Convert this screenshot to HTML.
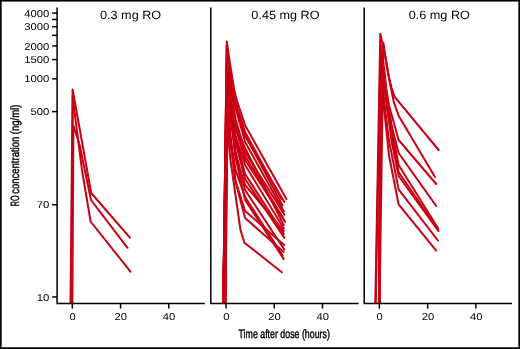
<!DOCTYPE html><html><head><meta charset="utf-8"><style>html,body{margin:0;padding:0;background:#fff;width:520px;height:349px;overflow:hidden}svg{display:block;will-change:transform}text{font-family:"Liberation Sans",sans-serif;fill:#000;text-rendering:geometricPrecision}</style></head><body>
<svg width="520" height="349" viewBox="0 0 520 349">
<rect x="0" y="0" width="520" height="349" fill="#fff"/>
<rect x="0" y="0" width="520" height="1" fill="#000"/><rect x="0" y="1" width="520" height="1" fill="#6a6a6a"/>
<rect x="0" y="0" width="1" height="349" fill="#000"/><rect x="1" y="1" width="1" height="347" fill="#555"/>
<rect x="519" y="0" width="1" height="349" fill="#000"/><rect x="518" y="1" width="1" height="347" fill="#5a5a5a"/>
<rect x="0" y="348" width="520" height="1" fill="#000"/><rect x="1" y="347" width="518" height="1" fill="#444"/>
<defs><clipPath id="c"><rect x="0" y="0" width="520" height="303.5"/></clipPath></defs>
<g clip-path="url(#c)" fill="none" stroke="#c80014" stroke-width="2.0" stroke-linejoin="round" stroke-linecap="round">
<polyline points="70.3,320.0 72.6,89.5 91.2,193.0 129.9,237.7"/>
<polyline points="71.6,320.0 72.8,95.0 74.3,110.0 82.0,170.0 90.6,221.5 130.5,271.7"/>
<polyline points="72.3,320.0 73.4,125.5 79.5,144.5 91.0,200.0 127.5,247.8"/>
<polyline points="223.0,320.0 226.8,41.5 229.4,60.0 232.6,80.0 234.2,90.0 236.7,100.0 245.1,125.3 286.4,199.0"/>
<polyline points="223.0,320.0 226.8,46.0 228.2,59.0 230.6,76.6 235.5,101.7 245.1,132.0 281.5,199.0"/>
<polyline points="224.6,320.0 227.2,52.0 228.2,60.5 230.6,78.5 235.5,104.0 245.1,135.0 282.5,205.5"/>
<polyline points="223.0,320.0 226.8,58.0 228.2,68.4 230.6,83.7 235.5,108.1 245.1,142.0 283.7,211.3"/>
<polyline points="225.1,320.0 227.7,50.0 228.2,56.8 230.6,84.6 235.5,119.1 245.1,152.0 284.4,214.7"/>
<polyline points="223.0,320.0 226.8,66.0 228.2,79.9 230.6,99.2 235.5,127.1 245.1,160.0 285.1,221.6"/>
<polyline points="224.4,320.0 227.5,56.0 228.2,68.6 230.6,100.4 235.5,135.5 245.1,165.0 283.7,228.5"/>
<polyline points="223.0,320.0 226.8,75.0 228.2,88.8 230.6,108.3 235.5,137.7 245.1,174.0 283.7,233.9"/>
<polyline points="225.3,320.0 228.0,62.0 228.2,66.2 230.6,100.5 235.5,142.1 245.1,179.0 284.2,237.6"/>
<polyline points="223.9,320.0 227.2,70.0 228.2,84.1 230.6,113.0 235.5,151.3 245.1,190.0 284.2,249.4"/>
<polyline points="223.0,320.0 226.8,85.0 228.2,109.4 230.6,138.0 235.5,169.8 245.1,197.0 282.7,255.5"/>
<polyline points="224.8,320.0 227.5,80.0 228.2,89.8 230.6,117.8 235.5,157.1 245.1,200.0 283.7,258.9"/>
<polyline points="223.6,320.0 227.2,95.0 228.2,111.5 230.6,143.4 235.5,180.9 245.1,211.0 284.2,245.0"/>
<polyline points="224.6,320.0 227.0,90.0 228.2,109.8 230.6,141.2 235.5,181.5 245.1,218.0 283.7,252.0"/>
<polyline points="223.0,320.0 226.8,100.0 228.2,104.5 230.6,111.7 235.5,124.8 245.1,148.0 283.7,225.0"/>
<polyline points="224.1,320.0 227.7,60.0 228.2,70.8 230.6,111.8 235.5,154.8 245.1,185.0 283.7,231.0"/>
<polyline points="223.0,320.0 226.8,48.0 228.2,61.7 230.6,80.2 235.5,106.0 245.1,136.0 284.4,202.0"/>
<polyline points="225.6,320.0 227.2,72.0 228.2,81.1 230.6,99.9 235.5,126.1 245.1,156.0 283.2,218.0"/>
<polyline points="223.4,320.0 227.0,110.0 228.5,140.0 230.3,159.0 233.5,181.0 236.6,203.0 240.5,230.0 244.4,242.7 281.8,272.2"/>
<polyline points="375.0,320.0 380.3,33.8 385.3,57.0 388.5,75.5 391.6,88.0 394.5,96.7 438.6,150.0"/>
<polyline points="379.3,320.0 383.4,43.0 385.3,56.0 388.9,78.0 393.8,102.0 398.6,115.7 435.0,177.0"/>
<polyline points="379.3,320.0 380.7,45.0 384.1,68.0 386.5,90.0 388.9,105.0 398.6,140.0 436.2,184.0"/>
<polyline points="375.4,320.0 380.5,50.0 384.1,72.0 386.5,95.0 391.4,125.0 398.6,153.0 436.2,206.0"/>
<polyline points="379.3,320.0 380.7,55.0 384.1,78.0 388.9,110.0 393.8,140.0 398.6,165.0 437.9,228.0"/>
<polyline points="378.8,320.0 380.5,48.0 382.9,70.0 385.3,95.0 388.9,120.0 398.6,172.0 437.9,229.5"/>
<polyline points="379.3,320.0 381.2,60.0 384.1,85.0 386.5,100.0 391.4,140.0 398.6,176.0 438.4,231.0"/>
<polyline points="378.8,320.0 380.5,65.0 382.9,90.0 385.3,110.0 388.9,140.0 398.6,189.4 437.9,240.5"/>
<polyline points="379.3,320.0 380.7,70.0 382.9,100.0 385.3,120.0 388.9,155.0 398.6,204.3 436.0,250.4"/>
</g>
<g fill="none" stroke="#000" stroke-width="1.5" stroke-linecap="butt">
<path d="M57.10 7.6 V303.6 H204.90"/>
<path d="M72.30 303.6 V308.6"/>
<path d="M120.55 303.6 V308.6"/>
<path d="M168.80 303.6 V308.6"/>
<path d="M210.80 7.6 V303.6 H358.60"/>
<path d="M226.00 303.6 V308.6"/>
<path d="M274.25 303.6 V308.6"/>
<path d="M322.50 303.6 V308.6"/>
<path d="M364.20 7.6 V303.6 H512.00"/>
<path d="M379.40 303.6 V308.6"/>
<path d="M427.65 303.6 V308.6"/>
<path d="M475.90 303.6 V308.6"/>
<path d="M52.1 13.11 H57.10"/>
<path d="M52.1 19.44 H57.10"/>
<path d="M52.1 26.74 H57.10"/>
<path d="M52.1 35.38 H57.10"/>
<path d="M52.1 45.95 H57.10"/>
<path d="M52.1 59.58 H57.10"/>
<path d="M52.1 78.79 H57.10"/>
<path d="M52.1 111.63 H57.10"/>
<path d="M52.1 204.78 H57.10"/>
<path d="M52.1 296.97 H57.10"/>
</g>
<g font-size="10" text-anchor="end">
<text x="49.4" y="16.71" transform="translate(49.4 0) scale(1.13 1) translate(-49.4 0)">4000</text>
<text x="49.4" y="30.34" transform="translate(49.4 0) scale(1.13 1) translate(-49.4 0)">3000</text>
<text x="49.4" y="49.55" transform="translate(49.4 0) scale(1.13 1) translate(-49.4 0)">2000</text>
<text x="49.4" y="63.18" transform="translate(49.4 0) scale(1.13 1) translate(-49.4 0)">1500</text>
<text x="49.4" y="82.39" transform="translate(49.4 0) scale(1.13 1) translate(-49.4 0)">1000</text>
<text x="49.4" y="115.23" transform="translate(49.4 0) scale(1.13 1) translate(-49.4 0)">500</text>
<text x="49.4" y="208.38" transform="translate(49.4 0) scale(1.13 1) translate(-49.4 0)">70</text>
<text x="49.4" y="300.57" transform="translate(49.4 0) scale(1.13 1) translate(-49.4 0)">10</text>
</g>
<g font-size="10" text-anchor="middle">
<text x="72.60" y="320" transform="translate(72.60 0) scale(1.12 1) translate(-72.60 0)">0</text>
<text x="120.85" y="320" transform="translate(120.85 0) scale(1.12 1) translate(-120.85 0)">20</text>
<text x="169.10" y="320" transform="translate(169.10 0) scale(1.12 1) translate(-169.10 0)">40</text>
<text x="226.30" y="320" transform="translate(226.30 0) scale(1.12 1) translate(-226.30 0)">0</text>
<text x="274.55" y="320" transform="translate(274.55 0) scale(1.12 1) translate(-274.55 0)">20</text>
<text x="322.80" y="320" transform="translate(322.80 0) scale(1.12 1) translate(-322.80 0)">40</text>
<text x="379.70" y="320" transform="translate(379.70 0) scale(1.12 1) translate(-379.70 0)">0</text>
<text x="427.95" y="320" transform="translate(427.95 0) scale(1.12 1) translate(-427.95 0)">20</text>
<text x="476.20" y="320" transform="translate(476.20 0) scale(1.12 1) translate(-476.20 0)">40</text>
</g>
<g font-size="12" text-anchor="middle">
<text x="130.6" y="19.0" transform="translate(130.6 0) scale(1.055 1) translate(-130.6 0)">0.3 mg RO</text>
<text x="285.5" y="19.0" transform="translate(285.5 0) scale(1.055 1) translate(-285.5 0)">0.45 mg RO</text>
<text x="439.3" y="19.0" transform="translate(439.3 0) scale(1.055 1) translate(-439.3 0)">0.6 mg RO</text>
</g>
<text font-size="12" stroke="#000" stroke-width="0.4" text-anchor="middle" transform="translate(284.2 338) scale(0.735 1)">Time after dose (hours)</text>
<text font-size="12" stroke="#000" stroke-width="0.4" transform="translate(19.2 206.3) rotate(-90) scale(0.60 1)">RO</text>
<text font-size="12" stroke="#000" stroke-width="0.4" transform="translate(19.2 193.7) rotate(-90) scale(0.79 1)">concentration (ng/ml)</text>
</svg></body></html>
